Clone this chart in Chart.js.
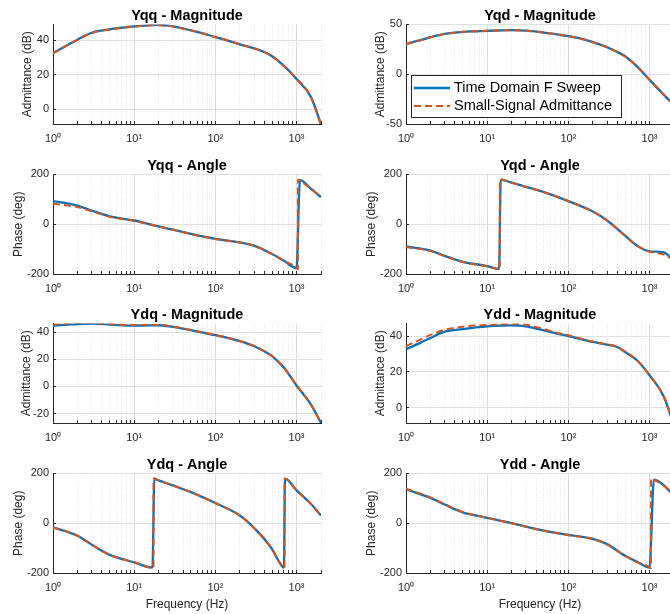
<!DOCTYPE html>
<html>
<head>
<meta charset="utf-8">
<script src="https://cdn.jsdelivr.net/npm/chart.js@4.4.0/dist/chart.umd.min.js"></script>
<style>
    html, body { margin: 0; padding: 0; background: #fff; overflow: hidden; }
    #lienzo { position: relative; width: 670px; height: 614px; overflow: hidden; background: #fff; }
    #lienzo canvas { position: absolute; }
</style>
</head>
<body>
<div id="lienzo"></div>
<script>
/* frecuencias (Hz) de las curvas de magnitud */
const FREC_MAG = [1, 1.5, 2, 3, 5, 7, 10, 15, 20, 30, 50, 70, 100, 150, 200, 300, 400, 500, 700, 1000, 1500, 2000];

/* magnitudes en dB: barrido temporal / admitancia de pequeña señal */
const yqqMagBarrido = [32.5, 37.0, 40.2, 44.2, 46.2, 47.1, 47.9, 48.5, 48.8, 47.9, 45.6, 43.8, 41.7, 39.4, 37.5, 35.2, 33.1, 30.6, 25.0, 17.5, 7.1, -8.7];
const yqqMagPequena = [32.3, 36.9, 40.1, 44.0, 46.1, 47.0, 47.8, 48.4, 48.6, 47.8, 45.5, 43.8, 41.7, 39.4, 37.5, 35.2, 33.1, 30.6, 25.0, 17.6, 7.2, -8.7];

const yqdMagBarrido = [30.5, 34.2, 37.2, 40.6, 42.6, 43.1, 43.6, 44.1, 44.3, 43.9, 41.9, 40.2, 38.2, 35.2, 32.2, 27.1, 22.4, 18.0, 7.9, -5.6, -20.7, -31.0];
const yqdMagPequena = [30.4, 34.1, 37.1, 40.5, 42.5, 43.1, 43.6, 44.1, 44.2, 43.8, 41.9, 40.2, 38.2, 35.2, 32.2, 27.1, 22.4, 18.0, 7.9, -5.6, -20.7, -31.0];

const ydqMagBarrido = [44.9, 45.6, 46.1, 46.4, 45.7, 45.2, 44.9, 45.1, 45.2, 43.9, 41.5, 39.7, 37.8, 35.4, 33.4, 29.7, 26.0, 22.4, 13.8, 0.7, -13.3, -26.9];
const ydqMagPequena = [45.7, 46.4, 46.9, 46.8, 46.1, 45.6, 45.3, 45.5, 45.5, 44.2, 41.7, 39.9, 38.0, 35.6, 33.6, 29.9, 26.1, 22.4, 13.8, 0.7, -13.3, -26.9];

const yddMagBarrido = [32.6, 36.2, 38.9, 42.4, 43.9, 44.7, 45.4, 45.8, 45.9, 45.4, 43.1, 41.5, 40.0, 38.0, 36.7, 35.2, 33.9, 31.1, 26.5, 18.1, 6.1, -10.0];
const yddMagPequena = [34.4, 38.0, 40.6, 43.5, 45.2, 45.8, 46.1, 46.6, 46.9, 46.3, 43.9, 42.0, 40.4, 38.3, 36.9, 35.3, 34.0, 31.2, 26.5, 18.1, 6.1, -10.0];

/* fases en grados (cada curva con sus propias frecuencias por los saltos de +-180) */
const yqqFaseFrecB = [1, 2, 3, 5, 7, 10, 20, 30, 50, 100, 200, 300, 500, 700, 1000, 1100, 1500, 2000];
const yqqFaseBarrido = [93, 75, 55, 32, 23, 15, -9, -22, -39, -59, -73, -86, -120, -147, -176, 177, 143, 109];
const yqqFaseFrecP = [1, 2, 3, 5, 7, 10, 20, 30, 50, 100, 200, 300, 500, 700, 1000, 1040, 1041, 1100, 1500, 2000];
const yqqFasePequena = [82, 69, 52, 30, 21, 14, -9, -22, -39, -59, -73, -86, -120, -147, -174, -180, 180, 175, 143, 109];

const yqdFaseFrecB = [1, 2, 3, 5, 10, 14, 14.7, 20, 30, 50, 100, 200, 300, 500, 700, 1000, 1500, 2000];
const yqdFaseBarrido = [-89, -106, -127, -151, -168, -180, 179, 167, 150, 129, 93, 51, 15, -46, -86, -109, -113, -150];
const yqdFaseFrecP = [1, 2, 3, 5, 10, 14.3, 14.31, 20, 30, 50, 100, 200, 300, 500, 700, 1000, 1500, 2000];
const yqdFasePequena = [-91, -108, -129, -152, -169, -180, 180, 167, 150, 129, 93, 51, 15, -46, -86, -110, -122, -145];

const ydqFaseFrecB = [1, 2, 3, 5, 10, 16.8, 17.7, 20, 30, 50, 100, 200, 300, 500, 600, 700, 720, 1000, 1500, 2000];
const ydqFaseBarrido = [-16, -50, -86, -127, -157, -178, 179, 172, 152, 125, 81, 31, -19, -104, -151, -178, 179, 132, 78, 31];
const ydqFaseFrecP = [1, 2, 3, 5, 10, 17.3, 17.31, 20, 30, 50, 100, 200, 300, 500, 600, 710, 711, 1000, 1500, 2000];
const ydqFasePequena = [-17, -50, -86, -127, -157, -180, 180, 172, 152, 125, 81, 31, -19, -104, -151, -180, 180, 132, 78, 31];

const yddFaseFrecB = [1, 2, 3, 5, 10, 20, 50, 100, 200, 300, 500, 700, 1000, 1130, 1500, 2000];
const yddFaseBarrido = [136, 102, 75, 44, 22, 0, -30, -47, -63, -84, -131, -155, -178, 175, 152, 110];
const yddFaseFrecP = [1, 2, 3, 5, 10, 20, 50, 100, 200, 300, 500, 700, 1000, 1040, 1041, 1100, 1500, 2000];
const yddFasePequena = [139, 104, 76, 45, 22, 0, -30, -48, -63, -85, -131, -156, -176, -180, 180, 176, 152, 110];

/* marcas de los ejes */
const TICKS_X = [1, 2, 3, 4, 5, 6, 7, 8, 9, 10, 20, 30, 40, 50, 60, 70, 80, 90, 100, 200, 300, 400, 500, 600, 700, 800, 900, 1000, 2000];
const ETIQUETAS_X = { 1: '10⁰', 10: '10¹', 100: '10²', 1000: '10³' };
const TICKS_FASE = [-200, 0, 200];

const COLOR_BARRIDO = '#0072BD';
const COLOR_PEQUENA = '#D95319';
const FUENTE = '"Liberation Sans", Arial, Helvetica, sans-serif';

Chart.defaults.font.family = FUENTE;

function puntos(frec, valores) {
    return frec.map((f, i) => ({ x: f, y: valores[i] }));
}

const esDecada = (v) => v === 1 || v === 10 || v === 100 || v === 1000;

/* leyenda dibujada dentro del area del grafico, abajo a la izquierda */
const leyendaInterna = {
    id: 'leyendaInterna',
    afterDatasetsDraw(chart, args, opts) {
        if (!opts.display) return;
        const { ctx, chartArea } = chart;
        const ancho = 210, alto = 42;
        const x = chartArea.left + 5;
        const y = chartArea.bottom - 7 - alto;
        ctx.save();
        ctx.fillStyle = '#fff';
        ctx.fillRect(x, y, ancho, alto);
        ctx.strokeStyle = '#262626';
        ctx.lineWidth = 1;
        ctx.strokeRect(x + 0.5, y + 0.5, ancho, alto);
        ctx.font = '14.5px ' + FUENTE;
        ctx.textBaseline = 'middle';
        chart.data.datasets.forEach((ds, i) => {
            const fy = y + 13 + i * 18;
            ctx.strokeStyle = ds.borderColor;
            ctx.lineWidth = ds.borderWidth;
            ctx.setLineDash(ds.borderDash || []);
            ctx.beginPath();
            ctx.moveTo(x + 3, fy);
            ctx.lineTo(x + 39, fy);
            ctx.stroke();
            ctx.setLineDash([]);
            ctx.fillStyle = '#000';
            ctx.fillText(ds.label, x + 43, fy);
        });
        ctx.restore();
    }
};

/* posicion de cada subgrafico (esquina superior izquierda del area de trazado) */
const subgraficos = [
    { titulo: 'Yqq - Magnitude', izq: 53, arriba: 24, yTitulo: 'Admittance (dB)', yPad: 20, yMin: -8.6, yMax: 49, yTicks: [0, 20, 40],
      frecB: FREC_MAG, barrido: yqqMagBarrido, frecP: FREC_MAG, pequena: yqqMagPequena },
    { titulo: 'Yqd - Magnitude', izq: 406, arriba: 24, yTitulo: 'Admittance (dB)', yPad: 20, yMin: -50, yMax: 50, yTicks: [-50, 0, 50],
      frecB: FREC_MAG, barrido: yqdMagBarrido, frecP: FREC_MAG, pequena: yqdMagPequena, leyenda: true },
    { titulo: 'Yqq - Angle', izq: 53, arriba: 174, yTitulo: 'Phase (deg)', yPad: 11, yMin: -200, yMax: 200, yTicks: TICKS_FASE,
      frecB: yqqFaseFrecB, barrido: yqqFaseBarrido, frecP: yqqFaseFrecP, pequena: yqqFasePequena },
    { titulo: 'Yqd - Angle', izq: 406, arriba: 174, yTitulo: 'Phase (deg)', yPad: 11, yMin: -200, yMax: 200, yTicks: TICKS_FASE,
      frecB: yqdFaseFrecB, barrido: yqdFaseBarrido, frecP: yqdFaseFrecP, pequena: yqdFasePequena },
    { titulo: 'Ydq - Magnitude', izq: 53, arriba: 323, yTitulo: 'Admittance (dB)', yPad: 19, yMin: -27, yMax: 46.5, yTicks: [-20, 0, 20, 40],
      frecB: FREC_MAG, barrido: ydqMagBarrido, frecP: FREC_MAG, pequena: ydqMagPequena },
    { titulo: 'Ydd - Magnitude', izq: 406, arriba: 323, yTitulo: 'Admittance (dB)', yPad: 20, yMin: -8.5, yMax: 47, yTicks: [0, 20, 40],
      frecB: FREC_MAG, barrido: yddMagBarrido, frecP: FREC_MAG, pequena: yddMagPequena },
    { titulo: 'Ydq - Angle', izq: 53, arriba: 473, yTitulo: 'Phase (deg)', yPad: 11, yMin: -200, yMax: 200, yTicks: TICKS_FASE,
      frecB: ydqFaseFrecB, barrido: ydqFaseBarrido, frecP: ydqFaseFrecP, pequena: ydqFasePequena, ejeFrecuencia: true },
    { titulo: 'Ydd - Angle', izq: 406, arriba: 473, yTitulo: 'Phase (deg)', yPad: 11, yMin: -200, yMax: 200, yTicks: TICKS_FASE,
      frecB: yddFaseFrecB, barrido: yddFaseBarrido, frecP: yddFaseFrecP, pequena: yddFasePequena, ejeFrecuencia: true },
];

function crearGrafico(d) {
    const anchoEjeY = 53, anchoTrazo = 268, altoTrazo = 100, altoTitulo = 24;
    const altoEjeX = d.ejeFrecuencia ? 41 : 26;
    const canvas = document.createElement('canvas');
    canvas.width = anchoEjeY + anchoTrazo + 4;
    canvas.height = altoTitulo + altoTrazo + altoEjeX;
    canvas.style.left = (d.izq - anchoEjeY) + 'px';
    canvas.style.top = (d.arriba - altoTitulo) + 'px';
    document.getElementById('lienzo').appendChild(canvas);

    new Chart(canvas, {
        type: 'line',
        data: {
            datasets: [
                {
                    label: 'Time Domain F Sweep',
                    data: puntos(d.frecB, d.barrido),
                    borderColor: COLOR_BARRIDO,
                    borderWidth: 2.3,
                    order: 2,
                },
                {
                    label: 'Small-Signal Admittance',
                    data: puntos(d.frecP, d.pequena),
                    borderColor: COLOR_PEQUENA,
                    borderWidth: 2,
                    borderDash: [7, 4],
                    order: 1,
                },
            ],
        },
        options: {
            responsive: false,
            animation: false,
            layout: { autoPadding: false, padding: { right: 4 } },
            elements: {
                point: { radius: 0 },
                line: { cubicInterpolationMode: 'monotone', fill: false },
            },
            plugins: {
                legend: { display: false },
                tooltip: { enabled: false },
                title: {
                    display: true,
                    text: d.titulo,
                    fullSize: false,
                    color: '#000',
                    font: { size: 14.5, weight: 'bold', lineHeight: 1.17 },
                    padding: { top: 7.5, bottom: 0 },
                },
                leyendaInterna: { display: !!d.leyenda },
            },
            scales: {
                x: {
                    type: 'logarithmic',
                    min: 1,
                    max: 2000,
                    afterBuildTicks: (s) => { s.ticks = TICKS_X.map((v) => ({ value: v })); },
                    afterFit: (s) => {
                        s.height = altoEjeX;
                        s.paddingLeft = 0;
                        s.paddingRight = 0;
                    },
                    ticks: {
                        autoSkip: false,
                        maxRotation: 0,
                        padding: 11,
                        color: '#262626',
                        font: { size: 11 },
                        callback: (v) => ETIQUETAS_X[v] || '',
                    },
                    grid: {
                        drawTicks: true,
                        tickLength: -3,
                        tickColor: '#262626',
                        tickWidth: 1,
                        color: (c) => (c.tick && esDecada(c.tick.value) ? '#dcdcdc' : '#e0e0e0'),
                    },
                    border: {
                        color: '#262626',
                        dash: (c) => (c.tick && !esDecada(c.tick.value) ? [1, 2] : []),
                    },
                    title: {
                        display: !!d.ejeFrecuencia,
                        text: 'Frequency (Hz)',
                        color: '#262626',
                        font: { size: 12 },
                        padding: { top: 0, bottom: 2 },
                    },
                },
                y: {
                    min: d.yMin,
                    max: d.yMax,
                    afterBuildTicks: (s) => { s.ticks = d.yTicks.map((v) => ({ value: v })); },
                    afterFit: (s) => { s.width = anchoEjeY; },
                    ticks: { padding: 7, color: '#262626', font: { size: 11 } },
                    grid: {
                        drawTicks: true,
                        tickLength: -3,
                        tickColor: '#262626',
                        tickWidth: 1,
                        color: '#e0e0e0',
                    },
                    border: { color: '#262626' },
                    title: {
                        display: true,
                        text: d.yTitulo,
                        color: '#262626',
                        font: { size: 12 },
                        padding: { top: d.yPad, bottom: 0 },
                    },
                },
            },
        },
        plugins: [leyendaInterna],
    });
}

document.addEventListener('DOMContentLoaded', function () {
    subgraficos.forEach(crearGrafico);
});
</script>
</body>
</html>
